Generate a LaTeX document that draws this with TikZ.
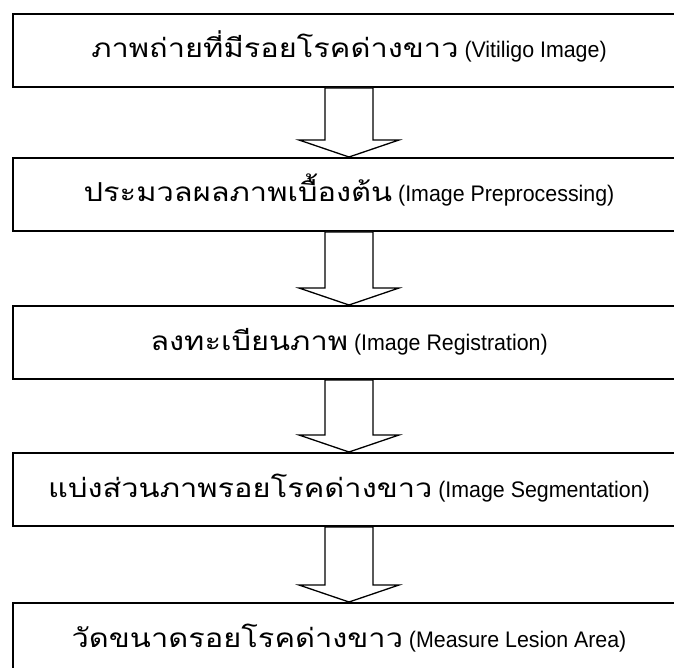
\documentclass[tikz,border=0pt]{standalone}
\usepackage{fontspec}
\setmainfont{Liberation Sans}[FakeStretch=0.95]
\newfontfamily\thaifont[Script=Thai,Scale=1.16,FakeStretch=1.18]{Loma}
\usepackage{tikz}

\begin{document}
\begin{tikzpicture}[x=1pt,y=1pt,
	stepbox/.style={draw,line width=2pt,minimum width=672pt,minimum height=73pt,inner sep=0pt,
		text height=15pt,text depth=0pt,anchor=north west,font=\fontsize{22.5}{27}\selectfont},
	blockarrow/.style={draw,line width=1.3pt,fill=white,line join=miter}]
	\useasboundingbox (0,0) rectangle (674,-668);
	\clip (0,0) rectangle (674,-668);
	\node[stepbox] (b1) at (12,-13) {{\thaifont ภาพถ่ายที่มีรอยโรคด่างขาว} (Vitiligo Image)};
	\node[stepbox] (b2) at (12,-157) {{\thaifont ประมวลผลภาพเบื้องต้น} (Image Preprocessing)};
	\node[stepbox] (b3) at (12,-305) {{\thaifont ลงทะเบียนภาพ} (Image Registration)};
	\node[stepbox] (b4) at (12,-452) {{\thaifont แบ่งส่วนภาพรอยโรคด่างขาว} (Image Segmentation)};
	\node[stepbox] (b5) at (12,-602) {{\thaifont วัดขนาดรอยโรคด่างขาว} (Measure Lesion Area)};
	\foreach \i/\j in {1/2,2/3,3/4,4/5}
		\draw[blockarrow] ([xshift=-24pt]b\i.south) -- ([xshift=-24pt,yshift=17pt]b\j.north)
			-- ([xshift=-50pt,yshift=17pt]b\j.north) -- (b\j.north)
			-- ([xshift=50pt,yshift=17pt]b\j.north) -- ([xshift=24pt,yshift=17pt]b\j.north)
			-- ([xshift=24pt]b\i.south) -- cycle;
\end{tikzpicture}
\end{document}
